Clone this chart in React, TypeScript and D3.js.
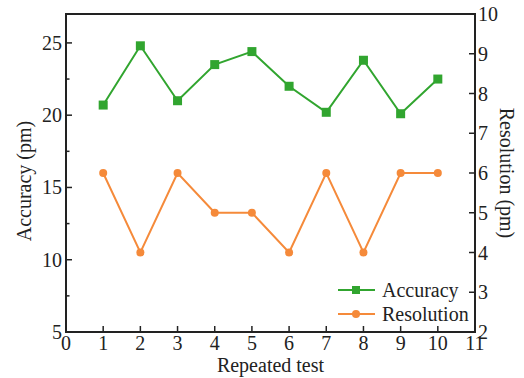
import { useEffect, useRef } from 'react';
import * as d3 from 'd3';

// repeated test number
const tests = [1, 2, 3, 4, 5, 6, 7, 8, 9, 10];
// accuracy in pm (left axis)
const accuracy = [20.7, 24.8, 21.0, 23.5, 24.4, 22.0, 20.2, 23.8, 20.1, 22.5];
// resolution in pm (right axis)
const resolution = [6, 4, 6, 5, 5, 4, 6, 4, 6, 6];

const xTicks = [0, 1, 2, 3, 4, 5, 6, 7, 8, 9, 10, 11];
const leftTicks = [5, 10, 15, 20, 25];
const leftMinor = [7.5, 12.5, 17.5, 22.5];
const rightTicks = [2, 3, 4, 5, 6, 7, 8, 9, 10];

const width = 524;
const height = 378;
const green = '#31a52f';
const orange = '#f58a3a';
const font = '"Liberation Serif", "Times New Roman", serif';

const App = () => {
  const svgRef = useRef<SVGSVGElement>(null);

  useEffect(() => {
    const svg = d3.select(svgRef.current);
    svg.selectAll('*').remove();

    const m = { left: 66, right: 475, top: 14, bottom: 332 };
    const x = d3.scaleLinear().domain([0, 11]).range([m.left, m.right]);
    const yL = d3.scaleLinear().domain([5, 27]).range([m.bottom, m.top]);
    const yR = d3.scaleLinear().domain([2, 10]).range([m.bottom, m.top]);

    // frame
    svg.append('rect')
      .attr('x', m.left).attr('y', m.top)
      .attr('width', m.right - m.left).attr('height', m.bottom - m.top)
      .attr('fill', 'none').attr('stroke', '#222').attr('stroke-width', 2);

    const ticks = svg.append('g').attr('stroke', '#222').attr('stroke-width', 1.5);
    // x ticks, pointing inward
    xTicks.forEach(t => {
      ticks.append('line').attr('x1', x(t)).attr('x2', x(t))
        .attr('y1', m.bottom).attr('y2', m.bottom - 6);
    });
    leftTicks.forEach(t => {
      ticks.append('line').attr('x1', m.left).attr('x2', m.left + 6)
        .attr('y1', yL(t)).attr('y2', yL(t));
    });
    leftMinor.forEach(t => {
      ticks.append('line').attr('x1', m.left).attr('x2', m.left + 3.5)
        .attr('y1', yL(t)).attr('y2', yL(t));
    });
    rightTicks.forEach(t => {
      ticks.append('line').attr('x1', m.right).attr('x2', m.right - 6)
        .attr('y1', yR(t)).attr('y2', yR(t));
    });

    const labels = svg.append('g')
      .attr('font-family', font).attr('font-size', 20).attr('fill', '#222');

    labels.selectAll('.xt').data(xTicks).enter().append('text')
      .attr('x', d => x(d)).attr('y', m.bottom + 18)
      .attr('text-anchor', 'middle').text(d => d);
    labels.selectAll('.yl').data(leftTicks).enter().append('text')
      .attr('x', m.left - 4).attr('y', d => yL(d) + 7)
      .attr('text-anchor', 'end').text(d => d);
    labels.selectAll('.yr').data(rightTicks).enter().append('text')
      .attr('x', m.right + 3).attr('y', d => yR(d) + 7)
      .attr('text-anchor', 'start').text(d => d);

    // axis titles
    labels.append('text')
      .attr('x', (m.left + m.right) / 2).attr('y', m.bottom + 40)
      .attr('text-anchor', 'middle').text('Repeated test');
    labels.append('text')
      .attr('transform', `translate(31, ${(m.top + m.bottom) / 2 + 8}) rotate(-90)`)
      .attr('text-anchor', 'middle').text('Accuracy (pm)');
    labels.append('text')
      .attr('transform', `translate(500, ${(m.top + m.bottom) / 2}) rotate(90)`)
      .attr('text-anchor', 'middle').text('Resolution (pm)');

    // accuracy series
    const accLine = d3.line<number>().x((d, i) => x(tests[i])).y(d => yL(d));
    svg.append('path').datum(accuracy)
      .attr('d', accLine).attr('fill', 'none')
      .attr('stroke', green).attr('stroke-width', 2);
    svg.selectAll('.acc').data(accuracy).enter().append('rect')
      .attr('x', (d, i) => x(tests[i]) - 4.5).attr('y', d => yL(d) - 4.5)
      .attr('width', 9).attr('height', 9).attr('fill', green);

    // resolution series
    const resLine = d3.line<number>().x((d, i) => x(tests[i])).y(d => yR(d));
    svg.append('path').datum(resolution)
      .attr('d', resLine).attr('fill', 'none')
      .attr('stroke', orange).attr('stroke-width', 2);
    svg.selectAll('.res').data(resolution).enter().append('circle')
      .attr('cx', (d, i) => x(tests[i])).attr('cy', d => yR(d))
      .attr('r', 4).attr('fill', orange);

    // legend
    const lg = svg.append('g');
    const items = [
      { label: 'Accuracy', color: green, shape: 'rect', y: 290 },
      { label: 'Resolution', color: orange, shape: 'circle', y: 314 },
    ];
    items.forEach(it => {
      lg.append('line').attr('x1', 338).attr('x2', 375)
        .attr('y1', it.y).attr('y2', it.y)
        .attr('stroke', it.color).attr('stroke-width', 2);
      if (it.shape === 'rect') {
        lg.append('rect').attr('x', 352).attr('y', it.y - 4)
          .attr('width', 8).attr('height', 8).attr('fill', it.color);
      } else {
        lg.append('circle').attr('cx', 356).attr('cy', it.y).attr('r', 4).attr('fill', it.color);
      }
      lg.append('text').attr('x', 382).attr('y', it.y + 7)
        .attr('font-family', font).attr('font-size', 20).attr('fill', '#222')
        .text(it.label);
    });
  }, []);

  return (
    <svg ref={svgRef} width={width} height={height}
      style={{ position: 'absolute', left: 0, top: 0, background: '#fff' }} />
  );
};

export default App;
